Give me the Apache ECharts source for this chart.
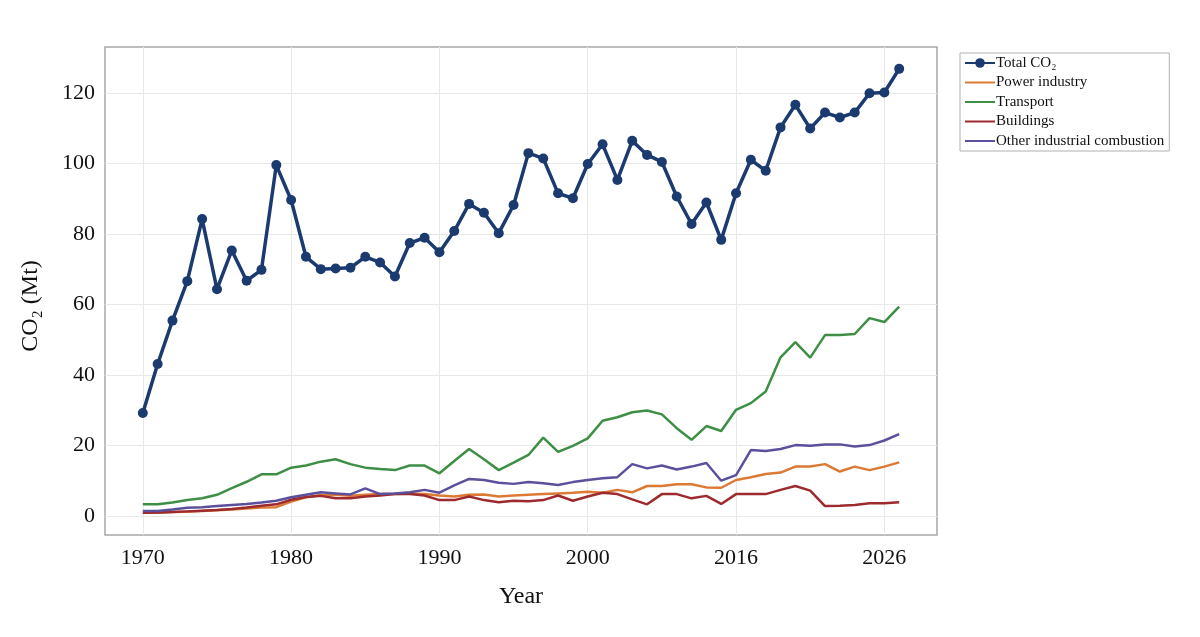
<!DOCTYPE html>
<html>
<head>
<meta charset="utf-8">
<script src="https://cdn.jsdelivr.net/npm/echarts@6/dist/echarts.min.js"></script>
<style>html,body{margin:0;padding:0;background:#fff}#c{width:1200px;height:637px}</style>
</head>
<body>
<div id="c"></div>
<script>
const years = [1970,1971,1972,1973,1974,1975,1976,1977,1978,1979,1980,1981,1982,1983,1984,1985,1986,1987,1988,1989,1990,1991,1992,1993,1994,1995,1996,1997,1998,1999,2000,2001,2002,2003,2004,2005,2006,2007,2008,2009,2010,2011,2012,2013,2014,2015,2016,2017,2018,2019,2020,2021];
const totalCO2 = [29.2,43.1,55.4,66.6,84.2,64.3,75.3,66.7,69.8,99.5,89.6,73.5,70.0,70.2,70.4,73.5,71.9,67.9,77.4,78.9,74.8,80.8,88.5,86.0,80.2,88.2,102.9,101.4,91.5,90.1,99.8,105.4,95.3,106.4,102.4,100.4,90.6,82.8,88.9,78.3,91.5,101.0,97.9,110.2,116.6,109.9,114.4,113.0,114.4,119.9,120.1,126.8];
const powerIndustry = [0.9,0.9,1.1,1.2,1.4,1.6,1.8,2.1,2.4,2.5,4.1,5.3,5.9,6.0,5.7,6.0,6.2,6.2,6.4,6.2,5.8,5.5,6.0,6.1,5.5,5.8,6.0,6.2,6.4,6.6,6.9,6.6,7.4,6.7,8.5,8.5,9.0,9.0,8.1,8.0,10.2,11.0,11.9,12.3,14.0,14.0,14.7,12.6,14.0,13.0,14.0,15.2];
const transport = [3.3,3.3,3.8,4.5,5.0,6.0,7.9,9.7,11.8,11.8,13.7,14.3,15.4,16.1,14.7,13.7,13.3,13.0,14.3,14.3,12.1,15.6,19.0,16.1,13.0,15.1,17.3,22.2,18.2,19.9,22.0,27.0,28.0,29.4,29.9,28.8,24.9,21.6,25.5,24.1,30.1,32.0,35.3,45.0,49.3,44.9,51.3,51.3,51.6,56.1,55.0,59.4];
const buildings = [0.9,1.0,1.1,1.3,1.5,1.7,2.0,2.4,2.9,3.3,4.6,5.4,5.7,5.0,5.0,5.5,5.8,6.2,6.2,5.8,4.5,4.5,5.5,4.5,3.9,4.3,4.2,4.5,5.8,4.3,5.5,6.6,6.2,4.7,3.3,6.2,6.2,5.0,5.7,3.4,6.2,6.2,6.2,7.4,8.5,7.2,2.8,2.9,3.1,3.6,3.6,3.9];
const otherIndustrial = [1.4,1.4,1.8,2.3,2.5,2.8,3.1,3.4,3.8,4.3,5.3,6.0,6.7,6.4,6.1,7.8,6.2,6.4,6.7,7.4,6.6,8.7,10.5,10.2,9.4,9.1,9.6,9.3,8.8,9.6,10.2,10.7,11.0,14.7,13.5,14.3,13.2,14.0,15.0,10.0,11.6,18.7,18.4,19.0,20.1,19.9,20.3,20.3,19.7,20.1,21.4,23.2];
const xTicks = [1970,1980,1990,2000,2010,2020];
const xTickLabels = ['1970','1980','1990','2000','2016','2026'];
const yTicks = [0,20,40,60,80,100,120];

const seriesNames = ['Total CO₂','Power industry','Transport','Buildings','Other industrial combustion'];
const seriesColors = ['#1b3a70','#dc7a33','#3e8f45','#9c2a2e','#5b509c'];
const seriesValues = [totalCO2, powerIndustry, transport, buildings, otherIndustrial];

const font = 'Liberation Serif';
const chart = echarts.init(document.getElementById('c'));
const series = seriesValues.map((vals, i) => ({
  name: seriesNames[i],
  type: 'line',
  data: years.map((y, k) => [y, vals[k]]),
  symbol: i === 0 ? 'circle' : 'none',
  symbolSize: 10,
  showSymbol: i === 0,
  lineStyle: { width: i === 0 ? 3.5 : 2.5, color: seriesColors[i] },
  itemStyle: { color: seriesColors[i] },
  z: i === 0 ? 5 : 3,
  animation: false
}));
chart.setOption({
  animation: false,
  backgroundColor: '#fff',
  grid: { left: 105, top: 47, right: 263, bottom: 102, show: true, borderColor: '#a8a8a8', borderWidth: 1.5, containLabel: false },
  legend: {
    orient: 'vertical', left: 960, top: 53,
    data: seriesNames.map((n, i) => i === 0 ? { name: n } : { name: n, itemStyle: { opacity: 0 } }),
    itemWidth: 30, itemHeight: 12, itemGap: 3.5,
    borderColor: '#b0b0b0', borderWidth: 1, padding: [2, 5, 2, 4],
    textStyle: { fontFamily: font, fontSize: 15, lineHeight: 16, color: '#111', padding: [0,0,0,-4] }
  },
  xAxis: {
    type: 'value', min: 1967.45, max: 2023.55,
    name: 'Year', nameLocation: 'middle', nameGap: 50,
    nameTextStyle: { fontFamily: font, fontSize: 24, color: '#111' },
    axisLine: { show: false },
    axisTick: { show: false, customValues: xTicks },
    axisLabel: { customValues: xTicks, fontFamily: font, fontSize: 22, color: '#111', margin: 12,
      formatter: v => xTickLabels[xTicks.indexOf(v)] || '' },
    splitLine: { show: true, lineStyle: { color: '#e8e8e8', width: 1 } }
  },
  yAxis: {
    type: 'value', min: -5.4, max: 133,
    name: 'CO₂ (Mt)', nameLocation: 'middle', nameGap: 62,
    nameTextStyle: { fontFamily: font, fontSize: 24, color: '#111', padding: [0, 30, 0, 0] },
    axisLine: { show: false },
    axisTick: { show: false, customValues: yTicks },
    axisLabel: { customValues: yTicks, fontFamily: font, fontSize: 22, color: '#111', margin: 10 },
    splitLine: { show: true, lineStyle: { color: '#e8e8e8', width: 1 } }
  },
  series: series
});
</script>
</body>
</html>
